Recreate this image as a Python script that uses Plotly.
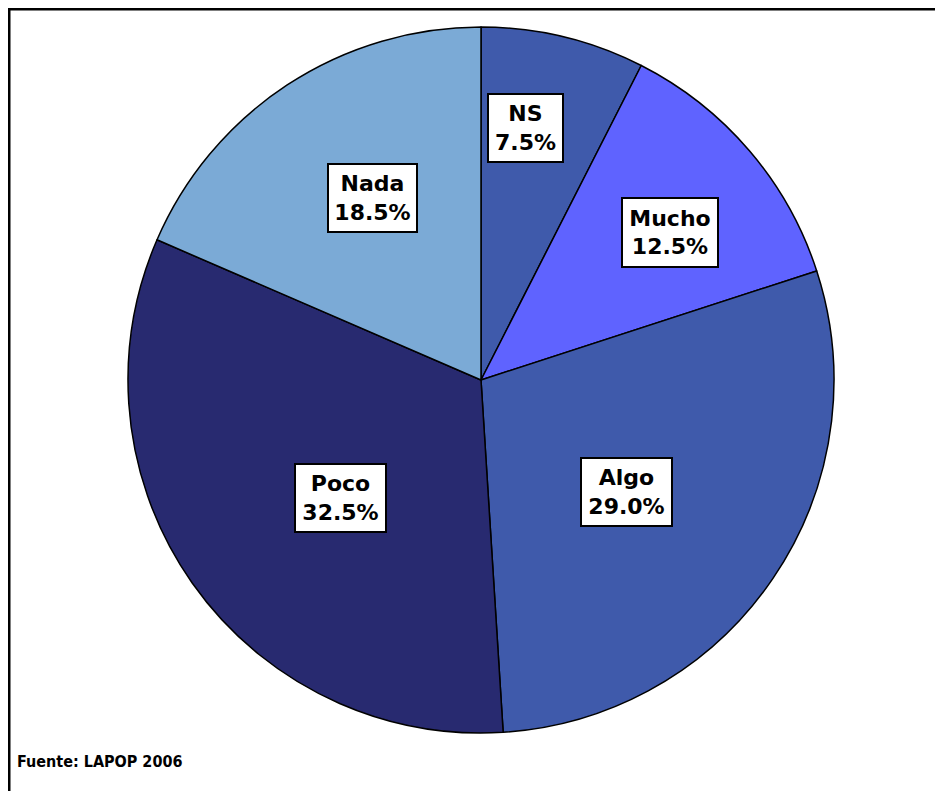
import math
import plotly.graph_objects as go

# ---- data ----
categories = ["NS", "Mucho", "Algo", "Poco", "Nada"]
values = [7.5, 12.5, 29.0, 32.5, 18.5]
source_note = "Fuente: LAPOP 2006"

# ---- style ----
colors = ["#3F5AAB", "#5F63FF", "#3F5AAB", "#282A70", "#7BAAD6"]
label_radius_frac = [0.726, 0.68, 0.52, 0.52, 0.60]
label_angle_nudge = [-3.4, 2.6, 3.5, -4.8, 2.4]
box_w = [77, 98, 93, 93, 91]
box_h = [70, 71, 70, 70, 70]

W, H = 943, 791
OFF = 8  # page body margin
dom_x = [(127 - OFF) / W, (835 - OFF) / W]
dom_y = [1 - (733 - OFF) / H, 1 - (27 - OFF) / H]

fig = go.Figure(go.Pie(
    labels=categories, values=values, sort=False, direction="clockwise",
    rotation=0, marker=dict(colors=colors, line=dict(color="black", width=1.5)),
    textinfo="none", hoverinfo="label+percent", showlegend=False,
    domain=dict(x=dom_x, y=dom_y),
))

# pie geometry in pixels (derived from the domain)
cx = (dom_x[0] + dom_x[1]) / 2 * W
cy = (1 - (dom_y[0] + dom_y[1]) / 2) * H
R = min((dom_x[1] - dom_x[0]) * W, (dom_y[1] - dom_y[0]) * H) / 2

total = sum(values)
cum = 0.0
annotations = []
pad, bw = 4, 2
for i, (cat, v) in enumerate(zip(categories, values)):
    mid = (cum + v / 2) / total * 360 + label_angle_nudge[i]
    cum += v
    a = math.radians(mid)
    px = cx + R * label_radius_frac[i] * math.sin(a)
    py = cy - R * label_radius_frac[i] * math.cos(a)
    annotations.append(dict(
        x=px / W, y=1 - py / H, xref="paper", yref="paper",
        text=f"{cat}<br>{v:.1f}%", showarrow=False,
        xanchor="center", yanchor="middle", align="center",
        font=dict(family="DejaVu Sans", size=22, color="black", weight="bold"),
        bgcolor="white", bordercolor="black", borderwidth=bw, borderpad=pad,
        width=box_w[i] - 2 * (pad + bw), height=box_h[i] - 2 * (pad + bw),
    ))

annotations.append(dict(
    x=(15 - OFF) / W, y=1 - (761 - OFF) / H, xref="paper", yref="paper", text=source_note,
    showarrow=False, xanchor="left", yanchor="middle",
    font=dict(family="DejaVu Sans Condensed, DejaVu Sans", size=16,
              color="black", weight="bold"),
))

fig.update_layout(
    width=W, height=H, margin=dict(l=0, r=0, t=0, b=0),
    paper_bgcolor="white", plot_bgcolor="white",
    annotations=annotations,
    shapes=[dict(type="rect", xref="paper", yref="paper",
                 x0=0, x1=1, y0=0, y1=1,
                 line=dict(color="black", width=5), fillcolor="rgba(0,0,0,0)", layer="above")],
)

fig.write_html("out.html")
